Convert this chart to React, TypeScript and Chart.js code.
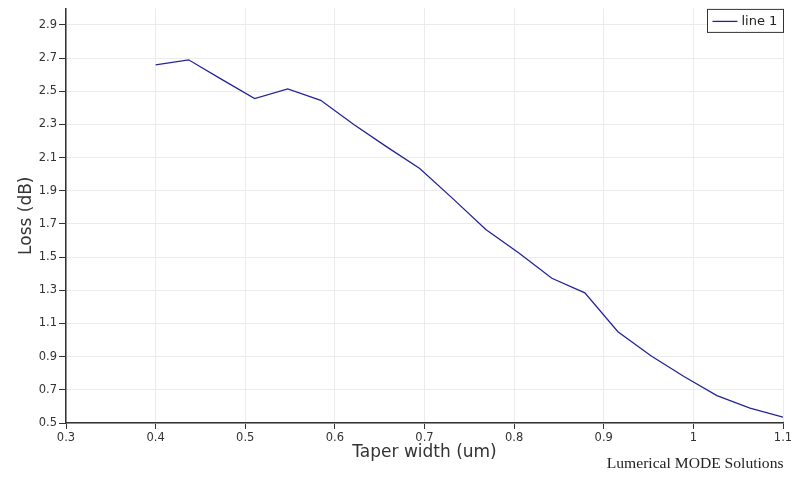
import React, { useEffect, useRef } from 'react';
import { Chart, registerables } from 'chart.js';

Chart.register(...registerables);

// ---- data ----
const taperWidth = [
  0.4, 0.4368, 0.4737, 0.5105, 0.5474, 0.5842, 0.6211, 0.6579, 0.6947, 0.7316,
  0.7684, 0.8053, 0.8421, 0.8789, 0.9158, 0.9526, 0.9895, 1.0263, 1.0632, 1.1,
];
const lossDb = [
  2.66, 2.69, 2.572, 2.456, 2.514, 2.446, 2.3, 2.165, 2.035, 1.853,
  1.667, 1.525, 1.373, 1.285, 1.05, 0.905, 0.78, 0.665, 0.59, 0.535,
];
const xTickValues = [0.3, 0.4, 0.5, 0.6, 0.7, 0.8, 0.9, 1.0, 1.1];
const xTickLabels = ['0.3', '0.4', '0.5', '0.6', '0.7', '0.8', '0.9', '1', '1.1'];
const yTickValues = [0.5, 0.7, 0.9, 1.1, 1.3, 1.5, 1.7, 1.9, 2.1, 2.3, 2.5, 2.7, 2.9];
const yTickLabels = ['0.5', '0.7', '0.9', '1.1', '1.3', '1.5', '1.7', '1.9', '2.1', '2.3', '2.5', '2.7', '2.9'];
const seriesName = 'line 1';
const xTitle = 'Taper width (um)';
const yTitle = 'Loss (dB)';
const creditText = 'Lumerical MODE Solutions';

const FONT = '"DejaVu Sans", Verdana, sans-serif';
const LINE_COLOR = '#24249a';
const TEXT_COLOR = '#333333';

const extrasPlugin = {
  id: 'extras',
  afterDraw(chart: any) {
    const ctx = chart.ctx as CanvasRenderingContext2D;
    const area = chart.chartArea;
    ctx.save();
    // legend box (top-right)
    const bx = area.right - 75.5;
    const by = area.top + 1;
    ctx.fillStyle = '#ffffff';
    ctx.fillRect(bx, by, 76, 23);
    ctx.strokeStyle = '#333333';
    ctx.lineWidth = 1;
    ctx.strokeRect(bx, by, 76, 23);
    ctx.strokeStyle = LINE_COLOR;
    ctx.lineWidth = 1.3;
    ctx.beginPath();
    ctx.moveTo(bx + 5, by + 12);
    ctx.lineTo(bx + 30, by + 12);
    ctx.stroke();
    ctx.fillStyle = '#222222';
    ctx.font = '13px ' + FONT;
    ctx.textAlign = 'left';
    ctx.textBaseline = 'middle';
    ctx.fillText(seriesName, bx + 34, by + 12.5);
    // credit
    ctx.fillStyle = '#222222';
    ctx.font = '15.6px "Liberation Serif", "Times New Roman", serif';
    ctx.textAlign = 'right';
    ctx.textBaseline = 'alphabetic';
    ctx.fillText(creditText, area.right + 0.5, 467.5);
    ctx.restore();
  },
};

export default function App() {
  const canvasRef = useRef<HTMLCanvasElement | null>(null);

  useEffect(() => {
    const canvas = canvasRef.current;
    if (!canvas) return;
    const points = taperWidth.map((x, i) => ({ x, y: lossDb[i] }));
    const chart = new Chart(canvas, {
      type: 'line',
      data: {
        datasets: [
          {
            label: seriesName,
            data: points,
            borderColor: LINE_COLOR,
            backgroundColor: LINE_COLOR,
            borderWidth: 1.3,
            pointRadius: 0,
            tension: 0,
            fill: false,
          },
        ],
      },
      options: {
        responsive: false,
        animation: false,
        devicePixelRatio: 1,
        layout: { padding: { top: 8.4, right: 11, bottom: 0, left: 0 } },
        plugins: {
          legend: { display: false },
          tooltip: { enabled: false },
          title: { display: false },
        },
        scales: {
          x: {
            type: 'linear',
            min: 0.3,
            max: 1.1,
            afterBuildTicks: (s: any) => {
              s.ticks = xTickValues.map((v) => ({ value: v }));
            },
            afterFit: (s: any) => {
              s.height = 58;
              s.paddingLeft = 0;
              s.paddingRight = 0;
            },
            ticks: {
              autoSkip: false,
              maxRotation: 0,
              minRotation: 0,
              padding: 2,
              color: TEXT_COLOR,
              font: { family: FONT, size: 11.5 },
              callback: (_v: any, i: number) => xTickLabels[i],
            },
            grid: {
              color: '#ebebeb',
              tickColor: '#333333',
              tickLength: 6,
              drawTicks: true,
            },
            border: { color: '#333333', width: 1.5 },
            title: {
              display: true,
              text: xTitle,
              color: TEXT_COLOR,
              font: { family: FONT, size: 17 },
              padding: { top: 0, bottom: 18 },
            },
          },
          y: {
            type: 'linear',
            min: 0.5,
            max: 3.0,
            afterBuildTicks: (s: any) => {
              s.ticks = yTickValues.map((v) => ({ value: v }));
            },
            afterFit: (s: any) => {
              s.width = 66;
              s.paddingTop = 0;
              s.paddingBottom = 0;
            },
            ticks: {
              autoSkip: false,
              padding: 2,
              color: TEXT_COLOR,
              font: { family: FONT, size: 11.5 },
              callback: (_v: any, i: number) => yTickLabels[i],
            },
            grid: {
              color: '#ebebeb',
              tickColor: '#333333',
              tickLength: 7,
              drawTicks: true,
            },
            border: { color: '#333333', width: 1.5 },
            title: {
              display: true,
              text: yTitle,
              color: TEXT_COLOR,
              font: { family: FONT, size: 17 },
              padding: { top: 16, bottom: 0 },
            },
          },
        },
      },
      plugins: [extrasPlugin],
    } as any);
    return () => chart.destroy();
  }, []);

  return (
    <div
      style={{
        position: 'fixed',
        left: 0,
        top: 0,
        width: 794,
        height: 481,
        background: '#ffffff',
      }}
    >
      <canvas ref={canvasRef} width={794} height={481} style={{ display: 'block' }} />
    </div>
  );
}
